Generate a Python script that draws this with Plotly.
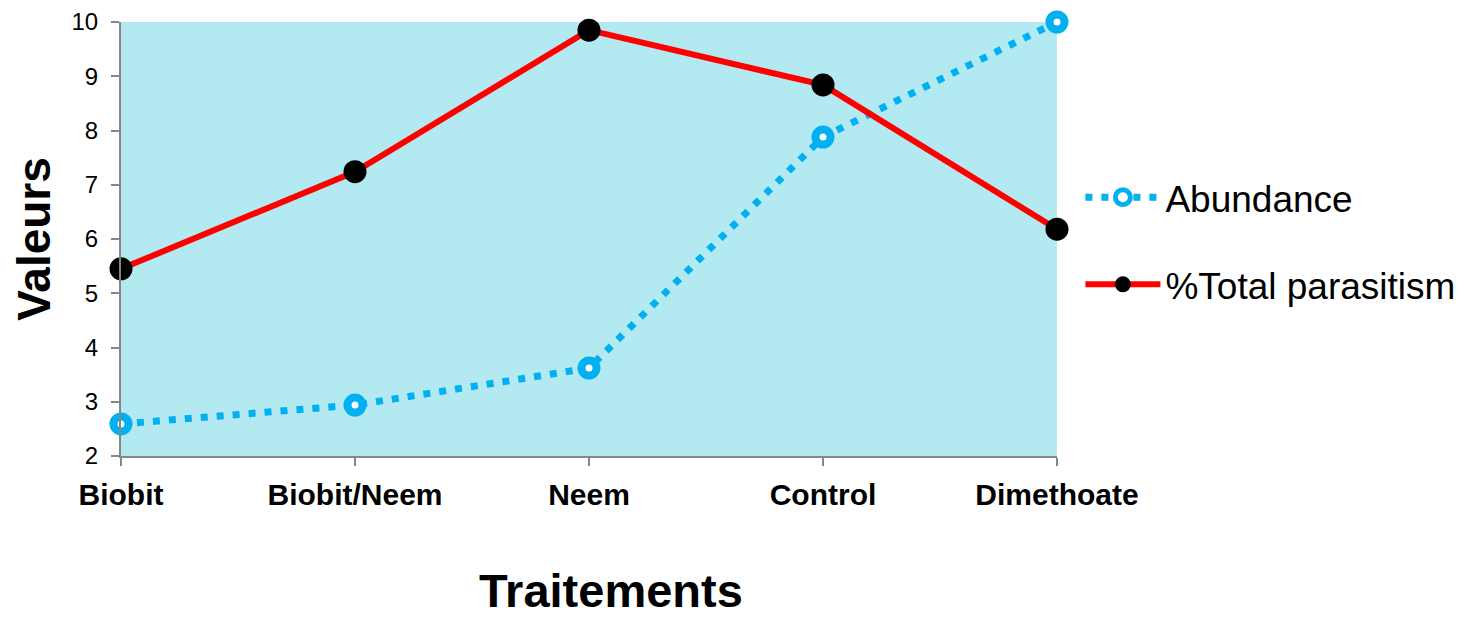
import plotly.graph_objects as go

categories = ["Biobit", "Biobit/Neem", "Neem", "Control", "Dimethoate"]
abundance = [2.59, 2.94, 3.62, 7.88, 10.0]
parasitism = [5.45, 7.24, 9.85, 8.84, 6.18]
y_ticks = [2, 3, 4, 5, 6, 7, 8, 9, 10]

xpos = list(range(len(categories)))

fig = go.Figure()
fig.add_trace(go.Scatter(
    x=xpos, y=abundance, name="Abundance", mode="lines+markers",
    line=dict(color="#00B0F0", width=7, dash="7px,9px"),
    marker=dict(symbol="circle", size=15, color="white", line=dict(color="#00B0F0", width=8)),
    cliponaxis=False, legendgroup="a",
))
fig.add_trace(go.Scatter(
    x=xpos, y=parasitism, name="%Total parasitism", mode="lines+markers",
    line=dict(color="#FF0000", width=6),
    marker=dict(symbol="circle", size=23, color="black"),
    cliponaxis=False, legendgroup="b",
))

fig.update_layout(
    width=1464, height=610,
    margin=dict(l=113, r=415, t=14, b=162),
    paper_bgcolor="white", plot_bgcolor="#B3E9F0",
    font=dict(family="Liberation Sans, Arial", color="black"),
    showlegend=True,
    legend=dict(x=1.025, y=0.495, xanchor="left", yanchor="middle",
                font=dict(size=37), tracegroupgap=36, traceorder="grouped",
                itemwidth=75, bgcolor="rgba(0,0,0,0)"),
    annotations=[dict(
        text="<b>Traitements</b>", xref="paper", yref="paper",
        x=0.5235, y=-0.31, xanchor="center", yanchor="middle",
        showarrow=False, font=dict(size=47),
    )],
)
fig.update_xaxes(
    range=[0, 4], tickmode="array", tickvals=xpos,
    ticktext=[f"<b>{c}</b>" for c in categories],
    tickfont=dict(size=30), ticklabelstandoff=3,
    ticks="outside", ticklen=8, tickwidth=2, tickcolor="#868686",
    showline=True, linecolor="#868686", linewidth=2, showgrid=False, zeroline=False,
    automargin=False,
)
fig.update_yaxes(
    range=[2, 10], tickmode="array", tickvals=y_ticks, ticktext=[str(v) for v in y_ticks],
    tickfont=dict(size=24), ticklabelstandoff=8,
    ticks="outside", ticklen=8, tickwidth=2, tickcolor="#868686",
    showline=True, linecolor="#868686", linewidth=2, showgrid=False, zeroline=False,
    automargin=False,
    title=dict(text="<b>Valeurs</b>", font=dict(size=46), standoff=23),
)
fig.write_html("out.html")
